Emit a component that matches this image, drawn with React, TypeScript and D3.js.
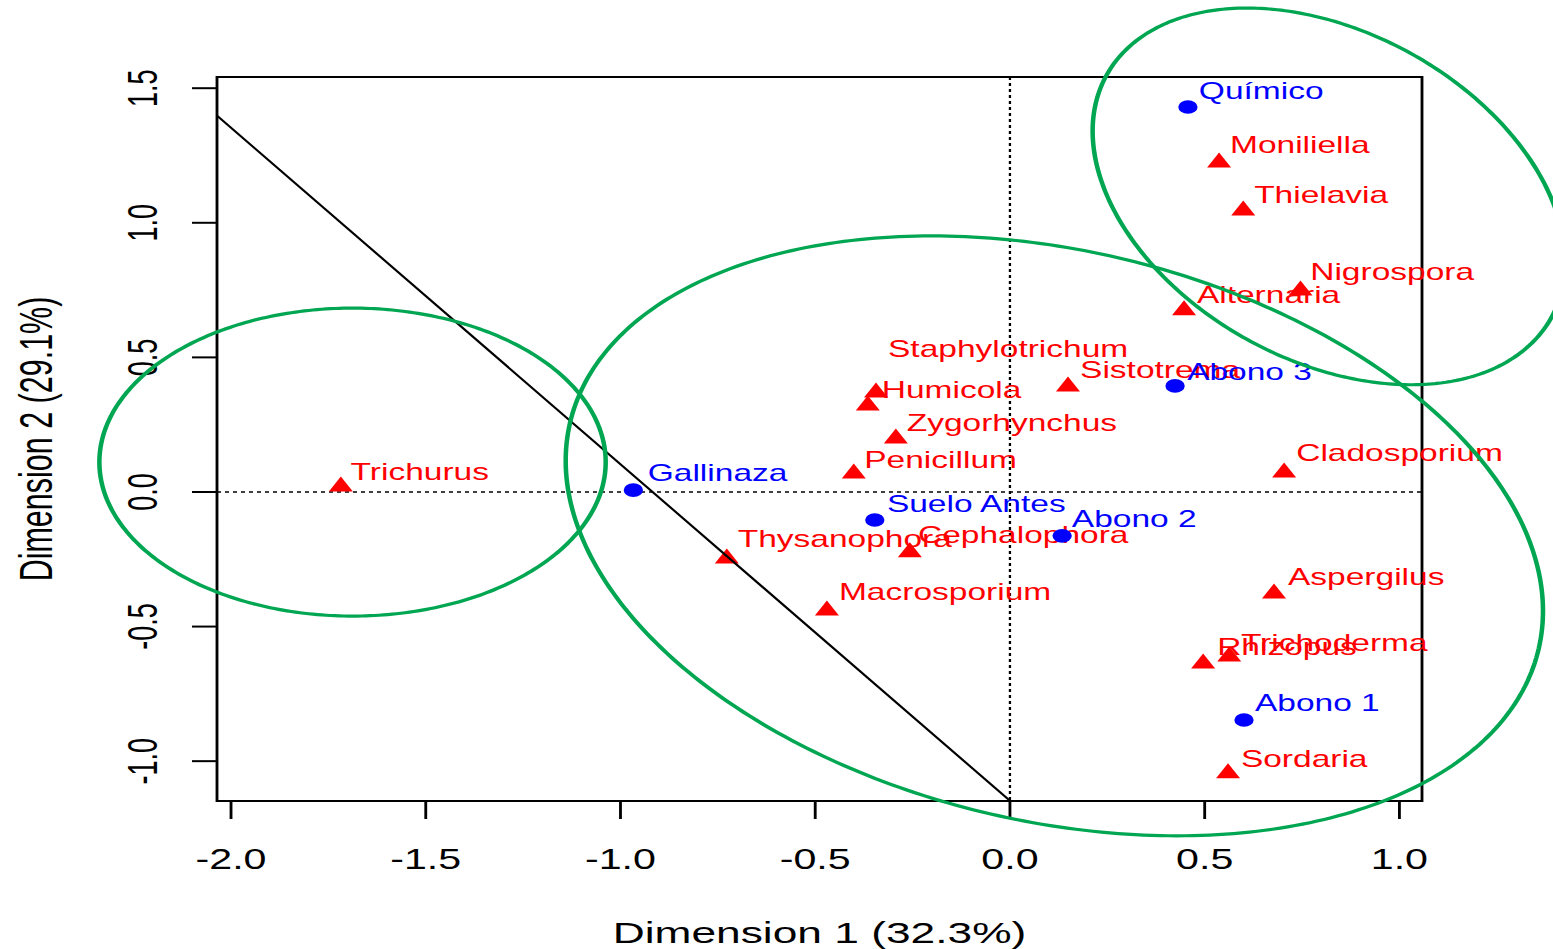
import React from "react";
import * as d3 from "d3";

// ---- data ----
const rowNames = ["Moniliella","Thielavia","Nigrospora","Alternaria","Staphylotrichum","Humicola","Sistotrema","Zygorhynchus","Penicillum","Cladosporium","Trichurus","Thysanophora","Cephalophora","Macrosporium","Aspergilus","Trichoderma","Rhizopus","Sordaria"];
const rowX = [0.537,0.599,0.746,0.447,-0.344,-0.365,0.149,-0.293,-0.401,0.704,-1.718,-0.727,-0.257,-0.470,0.678,0.563,0.496,0.560];
const rowY = [1.233,1.055,0.758,0.684,0.379,0.331,0.401,0.208,0.078,0.082,0.030,-0.238,-0.215,-0.431,-0.368,-0.602,-0.628,-1.036];
const rowLabelX = [0.565,0.627,0.771,0.480,-0.313,-0.329,0.180,-0.265,-0.374,0.735,-1.693,-0.699,-0.236,-0.439,0.714,0.593,0.532,0.593];
const rowLabelY = [1.289,1.103,0.817,0.732,0.531,0.379,0.453,0.256,0.119,0.145,0.074,-0.175,-0.160,-0.371,-0.316,-0.561,-0.576,-0.992];

const colNames = ["Químico","Abono 3","Gallinaza","Suelo Antes","Abono 2","Abono 1"];
const colX = [0.457,0.424,-0.967,-0.347,0.134,0.601];
const colY = [1.430,0.394,0.007,-0.104,-0.163,-0.847];
const colLabelX = [0.485,0.455,-0.930,-0.316,0.159,0.629];
const colLabelY = [1.490,0.446,0.071,-0.045,-0.100,-0.784];

const xTicks = [-2, -1.5, -1, -0.5, 0, 0.5, 1];
const xTickLabels = ["-2.0", "-1.5", "-1.0", "-0.5", "0.0", "0.5", "1.0"];
const yTicks = [-1, -0.5, 0, 0.5, 1, 1.5];
const yTickLabels = ["-1.0", "-0.5", "0.0", "0.5", "1.0", "1.5"];

const xDomain = [-2.036, 1.058];
const yDomain = [-1.148, 1.5416];

// group ellipses (data units): center, radii, rotation (deg)
const ellipseCenters = [[-1.688, 0.111], [0.114, -0.163], [0.819, 1.098]];
const ellipseRadii = [[0.650, 0.572], [1.340, 1.010], [0.767, 0.519]];
const ellipseAngles = [0, -32.3, -56.2];

// separating line end points (data units)
const sepLine = [[-2.1, 1.478], [0.1, -1.272]];

const xTitle = "Dimension 1 (32.3%)";
const yTitle = "Dimension 2 (29.1%)";

// ---- layout ----
const W = 1553, H = 949;
const S = 1.42; // horizontal stretch of the reference image
const left = 217, right = 1422, top = 77, bottom = 801;
const FONT = "'Liberation Sans', Arial, Helvetica, sans-serif";
const RED = "#FF0000", BLUE = "#0000FF", GREEN = "#00A651";

export default function App() {
  const xs = d3.scaleLinear().domain(xDomain).range([left / S, right / S]);
  const ys = d3.scaleLinear().domain(yDomain).range([bottom, top]);

  const ellipsePath = (i: number) => {
    const [cx, cy] = ellipseCenters[i];
    const [rx, ry] = ellipseRadii[i];
    const th = (ellipseAngles[i] * Math.PI) / 180;
    const ts = d3.range(0, 361).map((d) => (d * Math.PI) / 180);
    const line = d3
      .line<number>()
      .x((t) => xs(cx + rx * Math.cos(t) * Math.cos(th) - ry * Math.sin(t) * Math.sin(th)))
      .y((t) => ys(cy + rx * Math.cos(t) * Math.sin(th) + ry * Math.sin(t) * Math.cos(th)));
    return line(ts) + "Z";
  };

  const pl = left / S, pr = right / S;
  const tri = `M0,-7.5L${12 / S},7.5L${-12 / S},7.5Z`;

  return (
    <svg width={W} height={H} style={{ position: "absolute", left: 0, top: 0, display: "block", background: "#fff" }}>
      <defs>
        <clipPath id="plotClip" clipPathUnits="userSpaceOnUse">
          <rect x={pl} y={top} width={pr - pl} height={bottom - top} />
        </clipPath>
      </defs>
      <g transform={`scale(${S},1)`}>
        <rect x={0} y={0} width={W / S} height={H} fill="#fff" />
        {/* zero lines */}
        <g clipPath="url(#plotClip)">
          <line x1={pl} x2={pr} y1={ys(0)} y2={ys(0)} stroke="#000" strokeWidth={1.6} strokeDasharray={`${4 / S} ${4 / S}`} />
          <line x1={xs(0)} x2={xs(0)} y1={top} y2={bottom} stroke="#000" strokeWidth={1.6} strokeDasharray="3 3" />
        </g>
        {/* box */}
        <rect x={pl} y={top} width={pr - pl} height={bottom - top} fill="none" stroke="#000" strokeWidth={2} />
        {/* x axis ticks */}
        {xTicks.map((t, i) => (
          <g key={"xt" + i}>
            <line x1={xs(t)} x2={xs(t)} y1={bottom} y2={819} stroke="#000" strokeWidth={2} />
            <text x={xs(t)} y={869} fontFamily={FONT} fontSize={29} textAnchor="middle" fill="#000">
              {xTickLabels[i]}
            </text>
          </g>
        ))}
        {/* y axis ticks */}
        {yTicks.map((t, i) => (
          <g key={"yt" + i}>
            <line x1={192 / S} x2={pl} y1={ys(t)} y2={ys(t)} stroke="#000" strokeWidth={2} />
            <text
              transform={`translate(${157 / S},${ys(t)}) scale(1.13,1) rotate(-90)`}
              fontFamily={FONT}
              fontSize={27}
              textAnchor="middle"
              fill="#000"
            >
              {yTickLabels[i]}
            </text>
          </g>
        ))}
        {/* axis titles */}
        <text
          transform={`translate(${(pl + pr) / 2},943) scale(1.04,1)`}
          fontFamily={FONT}
          fontSize={30}
          textAnchor="middle"
          fill="#000"
        >
          {xTitle}
        </text>
        <text
          transform={`translate(${52 / S},${(top + bottom) / 2}) scale(1.056,1) rotate(-90)`}
          fontFamily={FONT}
          fontSize={30.5}
          textAnchor="middle"
          fill="#000"
        >
          {yTitle}
        </text>
        {/* rows: red triangles */}
        {rowNames.map((n, i) => (
          <g key={"r" + i}>
            <path d={tri} transform={`translate(${xs(rowX[i])},${ys(rowY[i])})`} fill={RED} />
          </g>
        ))}
        {rowNames.map((n, i) => (
          <text key={"rl" + i} x={xs(rowLabelX[i])} y={ys(rowLabelY[i]) + 8.4} fontFamily={FONT} fontSize={23.6} fill={RED}>
            {n}
          </text>
        ))}
        {/* columns: blue dots */}
        {colNames.map((n, i) => (
          <circle key={"c" + i} cx={xs(colX[i])} cy={ys(colY[i])} r={6.8} fill={BLUE} />
        ))}
        {colNames.map((n, i) => (
          <text key={"cl" + i} x={xs(colLabelX[i])} y={ys(colLabelY[i]) + 8.4} fontFamily={FONT} fontSize={23.6} fill={BLUE}>
            {n}
          </text>
        ))}
        {/* separating line */}
        <g clipPath="url(#plotClip)">
          <line
            x1={xs(sepLine[0][0])}
            y1={ys(sepLine[0][1])}
            x2={xs(sepLine[1][0])}
            y2={ys(sepLine[1][1])}
            stroke="#000"
            strokeWidth={1.8}
          />
        </g>
        {/* ellipses */}
        {ellipseCenters.map((c, i) => (
          <path key={"e" + i} d={ellipsePath(i)} fill="none" stroke={GREEN} strokeWidth={3.2} />
        ))}
      </g>
    </svg>
  );
}
